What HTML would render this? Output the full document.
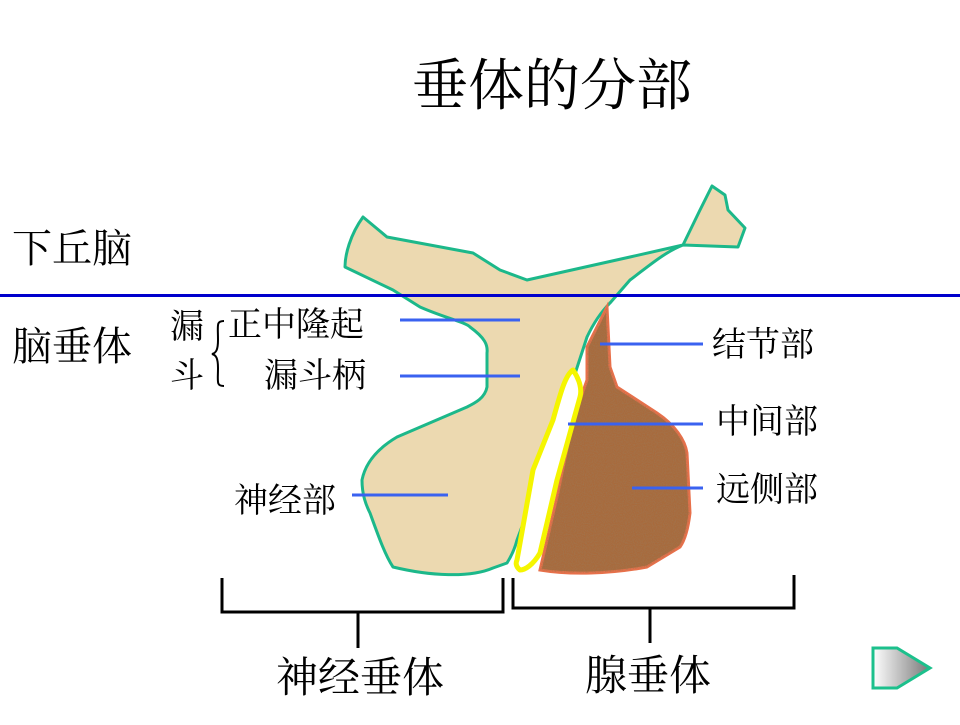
<!DOCTYPE html>
<html><head><meta charset="utf-8"><style>
body{margin:0;background:#fff}
svg text{font-family:"Liberation Serif","Noto Serif CJK SC",serif;fill:#000}
</style></head><body>
<svg width="960" height="720" viewBox="0 0 960 720" xmlns="http://www.w3.org/2000/svg">
<defs>
<filter id="n1"><feTurbulence type="fractalNoise" baseFrequency="0.9" numOctaves="2" seed="3"/><feColorMatrix values="0 0 0 0 0.35  0 0 0 0 0.18  0 0 0 0 0.08  0 0 0 1.5 -0.5"/><feComposite in2="SourceGraphic" operator="in"/></filter>
<linearGradient id="g1" x1="0" x2="1"><stop offset="0" stop-color="#fff"/><stop offset="1" stop-color="#777"/></linearGradient>
</defs>
<text x="552" y="105" font-size="56" text-anchor="middle">垂体的分部</text>
<text x="12" y="262" font-size="40">下丘脑</text>
<text x="12" y="360" font-size="40">脑垂体</text>
<path d="M363,217 C350,235 345,255 345,267 L393,290 L420,307 C445,318 465,322 470,327 C485,338 488,345 487,353 L487,387 C485,398 475,403 467,407 L397,437 C375,450 365,465 362,480 C362,495 366,505 370,513 C378,535 385,555 393,567 C430,576 470,578 493,568 L507,563 C512,555 515,548 517,540 L527,513 L540,463 C550,430 565,400 573,380 L587,337 C595,320 603,310 610,303 L630,280 C650,265 665,252 683,245 L700,210 L712,186 L725,195 L728,210 L745,228 L738,247 L683,245 L630,257 L527,280 L500,270 L473,253 L387,237 Z" fill="#ecd9b0" stroke="#1cb88a" stroke-width="3" stroke-linejoin="round"/>
<path d="M607,307 L610,367 L617,387 L657,413 C675,425 685,440 687,453 L690,513 C688,530 685,540 680,547 L647,567 C610,574 570,575 540,570 L557,497 L573,420 L587,380 L587,347 Z" fill="#a86a3c" stroke="#e8704a" stroke-width="3"/>
<path d="M607,307 L610,367 L617,387 L657,413 C675,425 685,440 687,453 L690,513 C688,530 685,540 680,547 L647,567 C610,574 570,575 540,570 L557,497 L573,420 L587,380 L587,347 Z" fill="#c08a58" filter="url(#n1)"/>
<path d="M573,370 C580,380 582,390 580,397 L570,433 L557,480 L540,553 C533,565 525,570 520,570 C515,566 516,562 517,560 L533,470 L553,420 C560,395 565,375 573,370 Z" fill="#fff" stroke="#f5f500" stroke-width="5" stroke-linejoin="round"/>
<line x1="0" y1="295.5" x2="960" y2="295.5" stroke="#0000cc" stroke-width="3"/>
<g stroke="#3a62f0" stroke-width="3">
<line x1="400" y1="320" x2="520" y2="320"/>
<line x1="400" y1="376" x2="520" y2="376"/>
<line x1="352" y1="495" x2="448" y2="495"/>
<line x1="600" y1="344" x2="703" y2="344"/>
<line x1="568" y1="424" x2="703" y2="424"/>
<line x1="632" y1="488" x2="703" y2="488"/>
</g>
<text x="170" y="338" font-size="34">漏</text>
<text x="170" y="387" font-size="34">斗</text>
<path d="M224,321 C216,321 218,325 218,340 C218,350 216,353 212,354 C216,355 218,358 218,368 C218,382 216,386 224,386" fill="none" stroke="#000" stroke-width="2"/>
<text x="228" y="336" font-size="34">正中隆起</text>
<text x="264" y="387" font-size="34">漏斗柄</text>
<text x="234" y="512" font-size="34">神经部</text>
<text x="712" y="356" font-size="34">结节部</text>
<text x="716" y="433" font-size="34">中间部</text>
<text x="716" y="501" font-size="34">远侧部</text>
<g stroke="#000" stroke-width="3" fill="none">
<path d="M222,578 V612 H503 V578"/>
<path d="M513,578 V608 H794 V575"/>
<line x1="358" y1="612" x2="358" y2="648"/>
<line x1="650" y1="608" x2="650" y2="643"/>
</g>
<text x="360" y="692" font-size="42" text-anchor="middle">神经垂体</text>
<text x="648" y="690" font-size="42" text-anchor="middle">腺垂体</text>
<path d="M873,648 H897 L930,668 L897,688 H873 Z" fill="url(#g1)" stroke="#1cc08c" stroke-width="3"/>
</svg>
</body></html>
